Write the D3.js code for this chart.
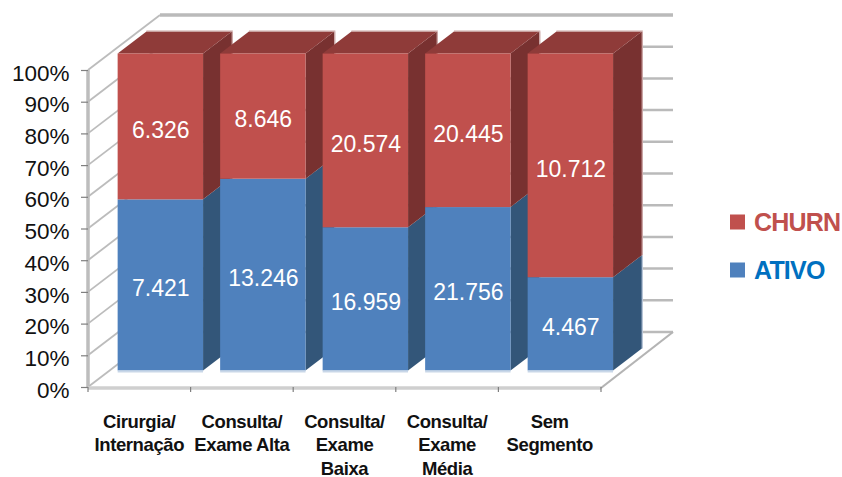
<!DOCTYPE html>
<html>
<head>
<meta charset="utf-8">
<script src="https://cdn.jsdelivr.net/npm/d3@7"></script>
<style>
  html, body { margin: 0; padding: 0; background: #fff; }
  svg { display: block; font-family: "Liberation Sans", Arial, sans-serif; }
</style>
</head>
<body>
<svg id="chart" width="842" height="477"></svg>
<script>
const categories = ["Cirurgia/ Internação", "Consulta/ Exame Alta", "Consulta/ Exame Baixa", "Consulta/ Exame Média", "Sem Segmento"];
const categoryLines = [
  ["Cirurgia/", "Internação"],
  ["Consulta/", "Exame Alta"],
  ["Consulta/", "Exame", "Baixa"],
  ["Consulta/", "Exame", "Média"],
  ["Sem", "Segmento"]
];
const ativo = [7421, 13246, 16959, 21756, 4467];
const churn = [6326, 8646, 20574, 20445, 10712];
const seriesNames = ["ATIVO", "CHURN"];
const yTicks = [0, .1, .2, .3, .4, .5, .6, .7, .8, .9, 1];

const frontColors = { ATIVO: "#4f81bd", CHURN: "#c0504d" };
const sideColors = { ATIVO: "#335679", CHURN: "#783130" };
const edgeColors = { ATIVO: "#b4c3d6", CHURN: "#c9a3a2" };
const topColor = "#8f3b39";
const legendText = { ATIVO: "#0070c0", CHURN: "#c0504d" };
const labelFormat = d3.formatLocale({ decimal: ",", thousands: ".", grouping: [3], currency: ["", ""] }).format(",d");

const svg = d3.select("#chart");

const x = d3.scaleBand().domain(categories).range([87.5, 600]).paddingInner(1 / 6).paddingOuter(1 / 12);
const xTick = d3.scaleBand().domain(categories).range([88, 601]);
const y = d3.scaleLinear().domain([0, 1]).range([387, 70]);
// Oblique projection: depth 0 is the front of the floor, depth 1 the back wall.
const depthX = d3.scaleLinear().domain([0, 1]).range([0, 72]);
const depthY = d3.scaleLinear().domain([0, 1]).range([0, -55]);
const zFront = 0.3, zBack = 0.7;

const rows = categories.map((c, i) => ({ category: c, ATIVO: ativo[i], CHURN: churn[i] }));
const stacked = d3.stack().keys(seriesNames).offset(d3.stackOffsetExpand)(rows);

const px = (v, z) => v + depthX(z);
const py = (v, z) => y(v) + depthY(z);
const poly = pts => "M" + pts.map(p => p.join(",")).join("L") + "Z";

// Walls and floor
const walls = svg.append("g").attr("fill", "none");
walls.selectAll("line.back").data(yTicks).join("line")
  .attr("class", "back")
  .attr("x1", px(xTick.range()[0], 1)).attr("x2", px(xTick.range()[1], 1))
  .attr("y1", d => py(d, 1)).attr("y2", d => py(d, 1))
  .attr("stroke", "#bababa")
  .attr("stroke-width", d => d === 1 ? 3.5 : 2.5);
walls.selectAll("line.side").data(yTicks).join("line")
  .attr("class", "side")
  .attr("x1", px(88, 0)).attr("x2", px(88, 1))
  .attr("y1", d => py(d, 0)).attr("y2", d => py(d, 1))
  .attr("stroke", "#bcbcbc").attr("stroke-width", 1.8);
walls.append("line")
  .attr("x1", 88).attr("x2", 88).attr("y1", y(1)).attr("y2", y(0) + 1)
  .attr("stroke", "#bdbdbd").attr("stroke-width", 3.5);
walls.append("line")
  .attr("x1", 88).attr("x2", 601).attr("y1", y(0) + 1).attr("y2", y(0) + 1)
  .attr("stroke", "#cfcfcf").attr("stroke-width", 3.5);
walls.append("line")
  .attr("x1", px(601, 0)).attr("x2", px(601, 1)).attr("y1", py(0, 0) + 1).attr("y2", py(0, 1))
  .attr("stroke", "#b4b4b4").attr("stroke-width", 2.2);

// Value axis
const axis = d3.axisLeft(y).tickValues(yTicks).tickFormat(d3.format(".0%")).tickSize(7).tickPadding(11.5);
const axisG = svg.append("g").attr("transform", "translate(88,0)").call(axis);
axisG.select(".domain").remove();
axisG.selectAll(".tick line").attr("stroke", "#7f7f7f").attr("stroke-width", 1.2);
axisG.selectAll(".tick text")
  .attr("font-family", "Liberation Sans").attr("font-size", 22.5).attr("fill", "#111")
  .attr("dy", "0.45em");

// Category ticks below the floor
const catTicks = [...categories.map(c => xTick(c)), 601];
svg.append("g").selectAll("line").data(catTicks).join("line")
  .attr("x1", d => d).attr("x2", d => d)
  .attr("y1", y(0)).attr("y2", y(0) + 5)
  .attr("stroke", "#7f7f7f").attr("stroke-width", 1.2);

// Bars, painted left to right so each one overlaps the side of its neighbour
const barGroups = svg.append("g").selectAll("g").data(categories).join("g");
barGroups.each(function (c, i) {
  const g = d3.select(this);
  const l = x(c), r = l + x.bandwidth();
  stacked.forEach(s => {
    const [a, b] = s[i];
    g.append("path")
      .attr("d", poly([[px(r, zFront), py(a, zFront)], [px(r, zBack), py(a, zBack)], [px(r, zBack), py(b, zBack)], [px(r, zFront), py(b, zFront)]]))
      .attr("fill", sideColors[s.key]);
    // Pale rim along the rear edge of the side face
    g.append("line")
      .attr("x1", px(r, zBack) + 0.5).attr("x2", px(r, zBack) + 0.5)
      .attr("y1", py(a, zBack)).attr("y2", py(b, zBack))
      .attr("stroke", edgeColors[s.key]).attr("stroke-width", 1.2);
  });
  g.append("path")
    .attr("d", poly([[px(l, zFront), py(1, zFront)], [px(l, zBack), py(1, zBack)], [px(r, zBack), py(1, zBack)], [px(r, zFront), py(1, zFront)]]))
    .attr("fill", topColor);
  g.append("line")
    .attr("x1", px(l, zBack)).attr("x2", px(r, zBack) + 1)
    .attr("y1", py(1, zBack) - 0.5).attr("y2", py(1, zBack) - 0.5)
    .attr("stroke", edgeColors.CHURN).attr("stroke-width", 1.2);
  stacked.forEach(s => {
    const [a, b] = s[i];
    g.append("rect")
      .attr("x", px(l, zFront)).attr("width", x.bandwidth())
      .attr("y", py(b, zFront)).attr("height", py(a, zFront) - py(b, zFront))
      .attr("fill", frontColors[s.key]);
    g.append("text")
      .attr("x", px(l, zFront) + x.bandwidth() / 2 + 0.5)
      .attr("y", (py(a, zFront) + py(b, zFront)) / 2 + 3)
      .attr("dy", "0.36em")
      .attr("text-anchor", "middle")
      .attr("font-size", 23)
      .attr("fill", "#fff")
      .text(labelFormat(s[i].data[s.key]));
  });
  // Pale lower edge of the front face
  g.append("line")
    .attr("x1", px(l, zFront)).attr("x2", px(r, zFront))
    .attr("y1", py(0, zFront) + 1).attr("y2", py(0, zFront) + 1)
    .attr("stroke", "#c9d7e8").attr("stroke-width", 2);
});

// Category labels
const catLabels = svg.append("g").selectAll("text").data(categories).join("text")
  .attr("text-anchor", "middle")
  .attr("font-size", 18.5).attr("font-weight", "bold").attr("fill", "#111")
  .attr("letter-spacing", -0.4);
catLabels.each(function (c, i) {
  d3.select(this).selectAll("tspan").data(categoryLines[i]).join("tspan")
    .attr("x", xTick(c) + xTick.bandwidth() / 2)
    .attr("y", (d, k) => 427.5 + k * 23.5)
    .text(d => d);
});

// Legend
const legendRows = [["CHURN", 222], ["ATIVO", 270]];
const legend = svg.append("g").selectAll("g").data(legendRows).join("g")
  .attr("transform", d => `translate(730,${d[1]})`);
legend.append("rect")
  .attr("x", 0).attr("y", -7.5).attr("width", 15).attr("height", 15)
  .attr("fill", d => frontColors[d[0]]);
legend.append("text")
  .attr("x", 24).attr("y", 0).attr("dy", "0.36em")
  .attr("font-size", 25).attr("font-weight", "bold").attr("letter-spacing", -0.8)
  .attr("fill", d => legendText[d[0]])
  .text(d => d[0]);
</script>
</body>
</html>
